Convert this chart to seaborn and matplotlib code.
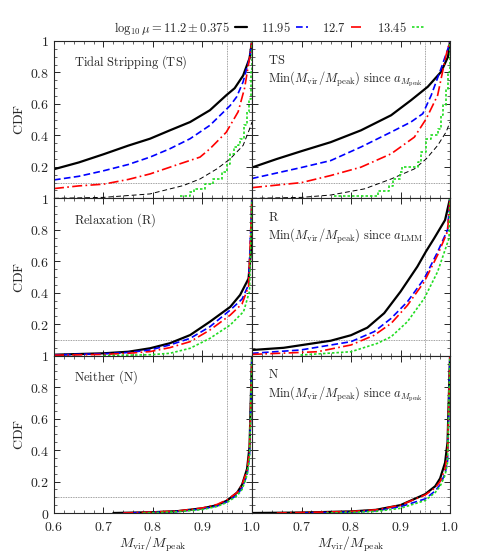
import numpy as np
import pandas as pd
import matplotlib
matplotlib.use("Agg")
import matplotlib.pyplot as plt
import seaborn as sns
from matplotlib.ticker import MultipleLocator

# ==========================================
# Data (CDF of Mvir/Mpeak)
# ==========================================
mass_labels = [r"$\log_{10}\mu = 11.2 \pm 0.375$", "$11.95$", "$12.7$", "$13.45$"]

# Tidal stripping, left panel
ts_black_x = [0.6, 0.65, 0.7, 0.75, 0.794, 0.834, 0.875, 0.915, 0.948, 0.965, 0.982, 0.995, 1.0]
ts_black_y = [0.185, 0.228, 0.28, 0.335, 0.379, 0.432, 0.485, 0.56, 0.655, 0.70, 0.78, 0.89, 1.0]
ts_blue_x = [0.6, 0.65, 0.7, 0.75, 0.794, 0.834, 0.875, 0.915, 0.956, 0.969, 0.982, 0.995, 1.0]
ts_blue_y = [0.117, 0.14, 0.175, 0.215, 0.262, 0.315, 0.379, 0.464, 0.59, 0.645, 0.74, 0.89, 1.0]
ts_red_x = [0.6, 0.65, 0.7, 0.75, 0.794, 0.854, 0.895, 0.915, 0.948, 0.972, 0.985, 0.995, 1.0]
ts_red_y = [0.062, 0.079, 0.09, 0.12, 0.155, 0.219, 0.262, 0.315, 0.42, 0.55, 0.70, 0.89, 1.0]
ts_green_x = [0.855, 0.875, 0.882, 0.905, 0.922, 0.939, 0.949, 0.956, 0.963, 0.971, 0.976, 0.983,
              0.99, 0.993, 0.997, 1.0]
ts_green_y = [0.017, 0.038, 0.06, 0.091, 0.123, 0.166, 0.219, 0.283, 0.326, 0.336, 0.379, 0.464,
              0.549, 0.634, 0.804, 1.0]
ts_ref_x = [0.6, 0.7, 0.794, 0.861, 0.895, 0.929, 0.956, 0.982, 0.995, 1.0]
ts_ref_y = [0.0, 0.006, 0.028, 0.081, 0.123, 0.187, 0.251, 0.336, 0.44, 0.485]

# Tidal stripping, min since a_Mpeak
tsm_black_x = [0.6, 0.65, 0.7, 0.759, 0.82, 0.881, 0.921, 0.955, 0.982, 0.996, 1.0]
tsm_black_y = [0.196, 0.25, 0.30, 0.357, 0.432, 0.528, 0.623, 0.709, 0.804, 0.90, 1.0]
tsm_blue_x = [0.6, 0.7, 0.759, 0.82, 0.881, 0.921, 0.945, 0.962, 0.982, 0.996, 1.0]
tsm_blue_y = [0.126, 0.196, 0.24, 0.326, 0.421, 0.485, 0.538, 0.655, 0.826, 0.953, 1.0]
tsm_red_x = [0.6, 0.7, 0.759, 0.82, 0.881, 0.928, 0.952, 0.975, 0.992, 1.0]
tsm_red_y = [0.068, 0.10, 0.145, 0.198, 0.283, 0.389, 0.506, 0.655, 0.91, 1.0]
tsm_green_x = [0.766, 0.81, 0.854, 0.877, 0.884, 0.898, 0.904, 0.935, 0.942, 0.952, 0.962, 0.975,
               0.982, 0.985, 0.992, 0.996, 1.0]
tsm_green_y = [0.015, 0.017, 0.049, 0.081, 0.123, 0.166, 0.198, 0.23, 0.294, 0.379, 0.40, 0.443,
               0.528, 0.591, 0.698, 0.804, 1.0]
tsm_ref_x = [0.6, 0.7, 0.759, 0.827, 0.881, 0.928, 0.952, 0.975, 0.992, 1.0]
tsm_ref_y = [0.0, 0.006, 0.021, 0.06, 0.123, 0.187, 0.251, 0.336, 0.421, 0.485]

# Relaxation, left panel
r_black_x = [0.6, 0.7, 0.75, 0.794, 0.834, 0.875, 0.915, 0.956, 0.976, 0.993, 0.999, 1.0]
r_black_y = [0.006, 0.015, 0.025, 0.047, 0.079, 0.131, 0.216, 0.31, 0.386, 0.49, 0.70, 1.0]
r_blue_x = [0.6, 0.7, 0.75, 0.794, 0.834, 0.875, 0.915, 0.956, 0.98, 0.993, 1.0]
r_blue_y = [0.005, 0.012, 0.02, 0.036, 0.068, 0.11, 0.184, 0.29, 0.36, 0.45, 1.0]
r_red_x = [0.6, 0.7, 0.75, 0.794, 0.834, 0.875, 0.915, 0.956, 0.98, 0.993, 1.0]
r_red_y = [0.003, 0.008, 0.015, 0.026, 0.051, 0.089, 0.163, 0.258, 0.33, 0.44, 1.0]
r_green_x = [0.7, 0.794, 0.834, 0.875, 0.915, 0.956, 0.983, 0.995, 1.0]
r_green_y = [0.0, 0.006, 0.015, 0.047, 0.11, 0.195, 0.28, 0.41, 1.0]

# Relaxation, min since a_LMM
rm_black_x = [0.6, 0.664, 0.759, 0.8, 0.833, 0.867, 0.9, 0.934, 0.951, 0.968, 0.99, 1.0]
rm_black_y = [0.036, 0.05, 0.095, 0.13, 0.178, 0.27, 0.407, 0.566, 0.66, 0.746, 0.862, 1.0]
rm_blue_x = [0.6, 0.698, 0.8, 0.847, 0.881, 0.914, 0.948, 0.975, 0.995, 1.0]
rm_blue_y = [0.015, 0.036, 0.089, 0.153, 0.237, 0.343, 0.49, 0.66, 0.80, 1.0]
rm_red_x = [0.6, 0.732, 0.8, 0.847, 0.881, 0.914, 0.948, 0.975, 0.995, 1.0]
rm_red_y = [0.008, 0.025, 0.068, 0.13, 0.205, 0.32, 0.47, 0.64, 0.79, 1.0]
rm_green_x = [0.698, 0.8, 0.853, 0.881, 0.914, 0.948, 0.975, 0.998, 1.0]
rm_green_y = [0.004, 0.025, 0.078, 0.12, 0.216, 0.364, 0.534, 0.746, 1.0]

# Neither, left panel
n_black_x = [0.72, 0.8, 0.85, 0.9, 0.93, 0.95, 0.97, 0.98, 0.99, 0.995, 1.0]
n_black_y = [0.0, 0.005, 0.012, 0.03, 0.05, 0.08, 0.13, 0.18, 0.28, 0.42, 1.0]
n_blue_x = [0.74, 0.8, 0.85, 0.9, 0.93, 0.95, 0.97, 0.98, 0.99, 0.995, 1.0]
n_blue_y = [0.0, 0.004, 0.01, 0.026, 0.045, 0.072, 0.115, 0.16, 0.24, 0.36, 1.0]
n_red_x = [0.74, 0.8, 0.85, 0.9, 0.93, 0.95, 0.97, 0.98, 0.99, 0.995, 1.0]
n_red_y = [0.0, 0.006, 0.013, 0.032, 0.055, 0.085, 0.13, 0.18, 0.27, 0.40, 1.0]
n_green_x = [0.78, 0.82, 0.85, 0.9, 0.93, 0.95, 0.97, 0.98, 0.99, 0.995, 1.0]
n_green_y = [0.0, 0.004, 0.008, 0.022, 0.042, 0.068, 0.11, 0.15, 0.24, 0.35, 1.0]

# Neither, min since a_Mpeak
nm_black_x = [0.6, 0.7, 0.8, 0.85, 0.9, 0.95, 0.97, 0.98, 0.99, 0.995, 1.0]
nm_black_y = [0.0, 0.003, 0.01, 0.02, 0.05, 0.12, 0.17, 0.22, 0.32, 0.45, 1.0]
nm_blue_x = [0.7, 0.8, 0.85, 0.9, 0.95, 0.97, 0.98, 0.99, 0.995, 1.0]
nm_blue_y = [0.0, 0.006, 0.014, 0.04, 0.09, 0.14, 0.18, 0.25, 0.33, 1.0]
nm_red_x = [0.65, 0.7, 0.8, 0.85, 0.9, 0.95, 0.97, 0.98, 0.99, 0.995, 1.0]
nm_red_y = [0.0, 0.003, 0.01, 0.02, 0.05, 0.115, 0.16, 0.2, 0.28, 0.38, 1.0]
nm_green_x = [0.75, 0.8, 0.85, 0.9, 0.95, 0.97, 0.98, 0.99, 0.995, 1.0]
nm_green_y = [0.0, 0.004, 0.01, 0.03, 0.08, 0.13, 0.17, 0.24, 0.32, 1.0]

panel_text = [
    [r"$\mathrm{Tidal\ Stripping\ (TS)}$",
     r"$\mathrm{TS}$" + "\n" + r"$\mathrm{Min}(M_{\rm vir}/M_{\rm peak})\ \mathrm{since}\ a_{M_{\rm peak}}$"],
    [r"$\mathrm{Relaxation\ (R)}$",
     r"$\mathrm{R}$" + "\n" + r"$\mathrm{Min}(M_{\rm vir}/M_{\rm peak})\ \mathrm{since}\ a_{\rm LMM}$"],
    [r"$\mathrm{Neither\ (N)}$",
     r"$\mathrm{N}$" + "\n" + r"$\mathrm{Min}(M_{\rm vir}/M_{\rm peak})\ \mathrm{since}\ a_{M_{\rm peak}}$"],
]

curves = [
    [[(ts_black_x, ts_black_y), (ts_blue_x, ts_blue_y), (ts_red_x, ts_red_y), (ts_green_x, ts_green_y)],
     [(tsm_black_x, tsm_black_y), (tsm_blue_x, tsm_blue_y), (tsm_red_x, tsm_red_y), (tsm_green_x, tsm_green_y)]],
    [[(r_black_x, r_black_y), (r_blue_x, r_blue_y), (r_red_x, r_red_y), (r_green_x, r_green_y)],
     [(rm_black_x, rm_black_y), (rm_blue_x, rm_blue_y), (rm_red_x, rm_red_y), (rm_green_x, rm_green_y)]],
    [[(n_black_x, n_black_y), (n_blue_x, n_blue_y), (n_red_x, n_red_y), (n_green_x, n_green_y)],
     [(nm_black_x, nm_black_y), (nm_blue_x, nm_blue_y), (nm_red_x, nm_red_y), (nm_green_x, nm_green_y)]],
]
ref_curves = [(ts_ref_x, ts_ref_y), (tsm_ref_x, tsm_ref_y)]

# ==========================================
# Style
# ==========================================
sns.set_style("ticks")
plt.rcParams.update({
    "font.family": ["DejaVu Serif"],
    "mathtext.fontset": "cm",
    "font.size": 10,
    "xtick.direction": "in",
    "ytick.direction": "in",
    "xtick.top": True,
    "ytick.right": True,
    "axes.linewidth": 0.8,
})

colors = ["black", "blue", "red", "#22dd22"]
styles = ["-", (0, (4, 2)), (0, (6, 2, 1, 2)), (0, (1.5, 1.2))]
widths = [1.6, 1.2, 1.2, 1.2]

fig, axes = plt.subplots(3, 2, figsize=(4.79, 5.54), dpi=100)
fig.subplots_adjust(left=0.1127, right=0.9395, top=0.926, bottom=0.074, hspace=0, wspace=0)

for r in range(3):
    for c in range(2):
        ax = axes[r, c]
        ax.axhline(0.1, color="gray", lw=0.6, ls=(0, (1, 1)))
        ax.axvline(0.95, color="gray", lw=0.6, ls=(0, (1, 1)))
        if r == 0:
            rx, ry = ref_curves[c]
            sns.lineplot(x=rx, y=ry, ax=ax, color="black", lw=0.7,
                         linestyle=(0, (5, 3)), estimator=None)
        for k, (xs, ys) in enumerate(curves[r][c]):
            df = pd.DataFrame({"x": xs, "y": ys})
            sns.lineplot(data=df, x="x", y="y", ax=ax, color=colors[k],
                         linestyle=styles[k], lw=widths[k], estimator=None,
                         drawstyle="steps-post" if (r == 0 and k == 3) else "default",
                         label=mass_labels[k])
        if ax.get_legend() is not None:
            ax.get_legend().remove()

        ax.set_xlim(0.6, 1.0)
        ax.set_ylim(0, 1)
        ax.xaxis.set_minor_locator(MultipleLocator(0.02))
        ax.yaxis.set_minor_locator(MultipleLocator(0.05))
        ax.tick_params(which="major", length=4, width=0.7, labelsize=10)
        ax.tick_params(axis="x", which="major", pad=5)
        ax.tick_params(which="minor", length=2, width=0.5)

        ax.text(0.10 if c == 0 else 0.08, 0.92, panel_text[r][c], transform=ax.transAxes,
                ha="left", va="top", fontsize=9, linespacing=1.25)

        # tick labels
        ax.set_yticks([0, 0.2, 0.4, 0.6, 0.8, 1.0])
        if c == 0:
            yt = ["$0$" if r == 2 else "", "$0.2$", "$0.4$", "$0.6$", "$0.8$", "$1$"]
            ax.set_yticklabels(yt)
            ax.set_ylabel(r"$\mathrm{CDF}$", fontsize=10)
            ax.yaxis.set_label_coords(-0.14, 0.5)
        else:
            ax.set_yticklabels([])
            ax.set_ylabel("")
        ax.set_xticks([0.6, 0.7, 0.8, 0.9, 1.0])
        if r == 2:
            xt = ["$0.6$", "$0.7$", "$0.8$", "$0.9$", "$1.0$"]
            if c == 1:
                xt[0] = ""
            ax.set_xticklabels(xt)
            ax.set_xlabel(r"$M_{\rm vir}/M_{\rm peak}$", fontsize=10)
            ax.xaxis.set_label_coords(0.5, -0.138)
        else:
            ax.set_xticklabels([])
            ax.set_xlabel("")

handles, labels = axes[0, 0].get_legend_handles_labels()
fig.legend(handles, labels, ncol=4, loc="center", bbox_to_anchor=(0.562, 0.949),
           frameon=False, markerfirst=False, handlelength=1.0, columnspacing=1.1,
           handletextpad=0.4, fontsize=9)

plt.savefig("out.png", dpi=100)
